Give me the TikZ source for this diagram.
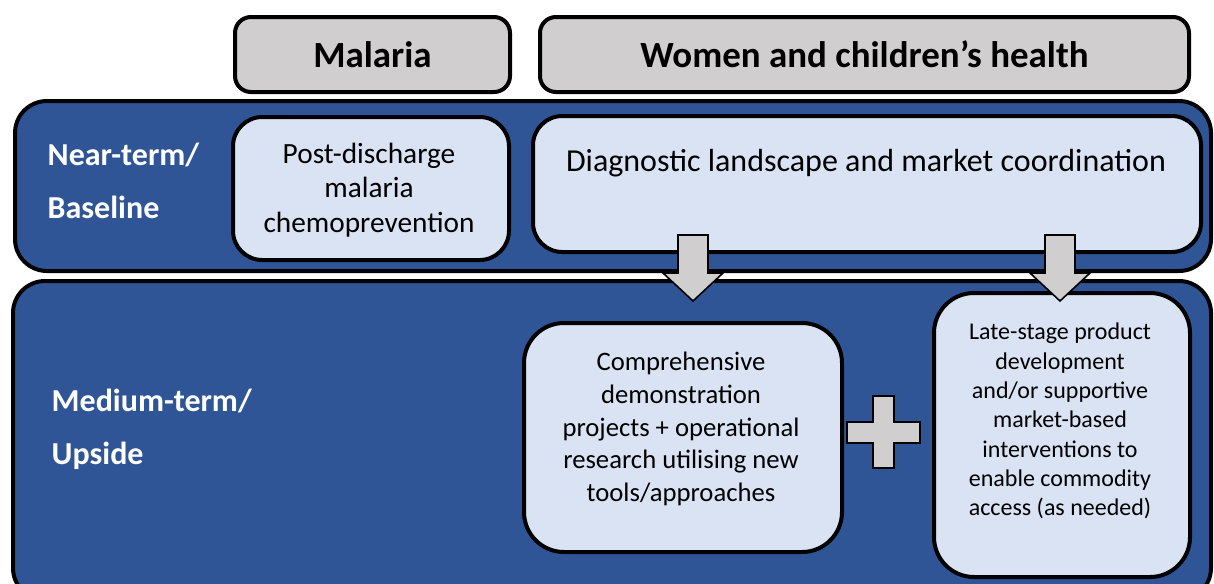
\documentclass[tikz,border=0pt]{standalone}
\usepackage{fontspec}
\setmainfont{Carlito}
\usepackage{tikz}
\usetikzlibrary{positioning, calc}
\definecolor{bande}{RGB}{47,85,151}
\definecolor{clair}{RGB}{218,227,243}
\definecolor{gris}{RGB}{208,206,206}

\begin{document}
\begin{tikzpicture}[x=0.75pt, y=-0.75pt,
	band/.style={fill=bande, draw=black, line width=3pt, rounded corners=24pt},
	head/.style={fill=gris, draw=black, line width=3pt, rounded corners=12pt,
		font=\bfseries\fontsize{27.7}{32}\selectfont, anchor=north west, inner sep=0pt},
	cell/.style={fill=clair, draw=black, line width=3pt, rounded corners=22pt,
		align=center, anchor=north west, inner sep=0pt},
	tag/.style={text=white, font=\bfseries\fontsize{24}{40}\selectfont, align=left, anchor=west},
	garrow/.style={fill=gris, draw=black, line width=1.2pt, line join=miter}]
	\clip (0,0) rectangle (1214,583);
	\fill[white] (0,0) rectangle (1214,583);
	% headers
	\node[head, minimum width=0.75*275pt, minimum height=0.75*75pt] (malaria) at (233,15) {Malaria};
	\node[head, minimum width=0.75*649pt, minimum height=0.75*75pt] (wch) at (538,15) {Women and children’s health};
	% bands
	\draw[band] (15,101) rectangle (1211,271);
	\draw[band] (13,281) rectangle (1211,600);
	\node[tag] (near) at (43,181) {Near-term/\\Baseline};
	\node[tag] (medium) at (47,429) {Medium-term/\\Upside};
	% near-term boxes
	\node[cell, minimum width=0.75*276pt, minimum height=0.75*143pt] (pdmc) at (231,115) {};
	\node[font=\fontsize{22}{26}\selectfont, align=center] (pdmctxt) at (369,190)
		{Post-discharge\\malaria\\chemoprevention};
	\node[cell, minimum width=0.75*668pt, minimum height=0.75*136pt] (diag) at (531,114) {};
	\node[font=\fontsize{24}{26}\selectfont] (diagtxt) at (866,163) {Diagnostic landscape and market coordination};
	% medium-term boxes
	\node[cell, minimum width=0.75*318pt, minimum height=0.75*229pt, rounded corners=30pt] (demo) at (522,321) {};
	\node[font=\fontsize{20}{24.5}\selectfont, align=center] (demotxt) at (681,429)
		{Comprehensive\\demonstration\\projects + operational\\research utilising new\\tools/approaches};
	\node[cell, minimum width=0.75*256pt, minimum height=0.75*284pt, rounded corners=30pt] (late) at (932,291) {};
	\node[font=\fontsize{18}{22}\selectfont, align=center] (latetxt) at (1060,421)
		{Late-stage product\\development\\and/or supportive\\market-based\\interventions to\\enable commodity\\access (as needed)};
	% block arrows
	\foreach \ax in {693,1060}
	\filldraw[garrow] (\ax-15,235) -- (\ax+15,235) -- (\ax+15,273) -- (\ax+30,273)
		-- (\ax,301) -- (\ax-30,273) -- (\ax-15,273) -- cycle;
	% plus
	\filldraw[garrow] (873,396) -- (894,396) -- (894,422) -- (920,422) -- (920,443)
		-- (894,443) -- (894,468) -- (873,468) -- (873,443) -- (847,443) -- (847,422)
		-- (873,422) -- cycle;
\end{tikzpicture}
\end{document}
